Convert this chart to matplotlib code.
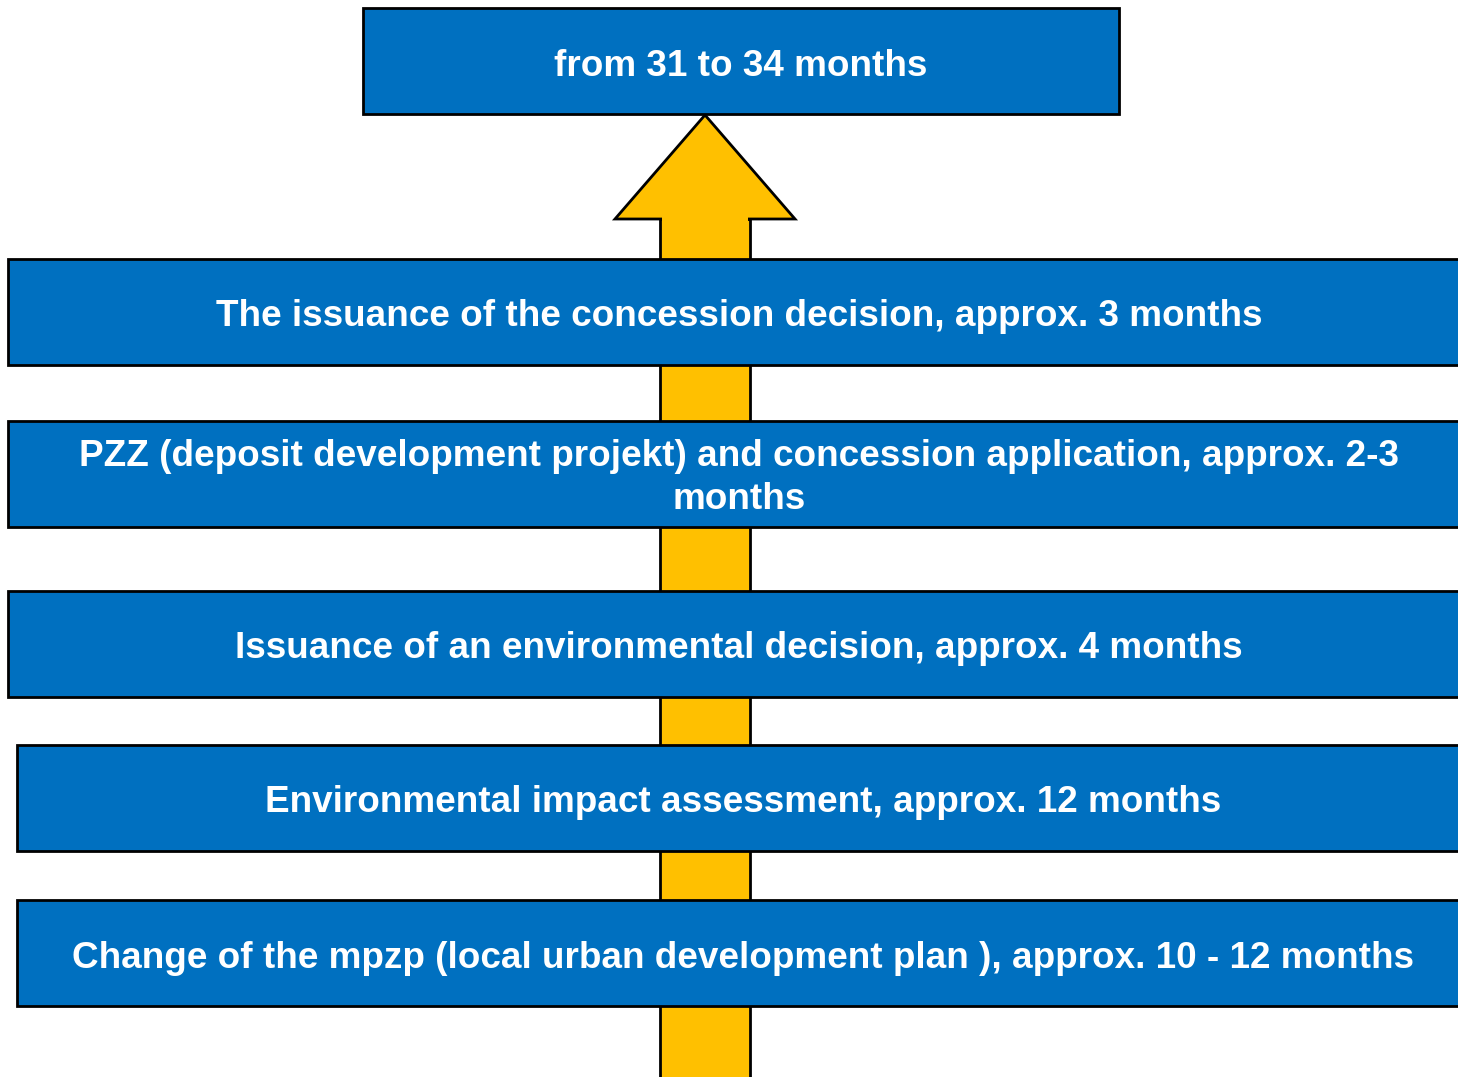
import matplotlib.pyplot as plt
from matplotlib.patches import Rectangle, Polygon

# top box, then the steps from top to bottom
top_label = 'from 31 to 34 months'
step_labels = [
    'The issuance of the concession decision, approx. 3 months',
    'PZZ (deposit development projekt) and concession application, approx. 2-3\nmonths',
    'Issuance of an environmental decision, approx. 4 months',
    'Environmental impact assessment, approx. 12 months',
    'Change of the mpzp (local urban development plan ), approx. 10 - 12 months',
]

blue = '#0070C0'
gold = '#FFC000'

plt.rcParams['font.family'] = ['Liberation Sans', 'DejaVu Sans']

fig = plt.figure(figsize=(14.58, 10.77), dpi=100)
ax = fig.add_axes([0, 0, 1, 1])
ax.set_xlim(0, 1458)
ax.set_ylim(1077, 0)
ax.axis('off')

# arrow behind the boxes
shaft = Rectangle((660, 219), 90, 900, facecolor=gold, edgecolor='black', lw=2, zorder=1)
ax.add_patch(shaft)
head = Polygon([(615, 219), (705, 115), (795, 219)], closed=True,
               facecolor=gold, edgecolor='black', lw=2, zorder=2)
ax.add_patch(head)
ax.add_patch(Rectangle((662, 215), 86, 10, facecolor=gold, edgecolor='none', zorder=3))

# top box
ax.add_patch(Rectangle((363, 8), 756, 106, facecolor=blue, edgecolor='black', lw=2, zorder=4))
ax.text(741, 63, top_label, color='white', fontsize=26.6, fontweight='bold',
        ha='center', va='center_baseline', zorder=5)

box_tops = [259, 421, 591, 745, 900]
box_lefts = [8, 8, 8, 17, 17]
for label, y0, x0 in zip(step_labels, box_tops, box_lefts):
    ax.add_patch(Rectangle((x0, y0), 1462 - x0 + 8, 106, facecolor=blue,
                           edgecolor='black', lw=2, zorder=4))
    if '\n' in label:
        ax.text((x0 + 1470) / 2, y0 + 57, label, color='white', fontsize=26.6,
                fontweight='bold', ha='center', va='center', linespacing=1.28, zorder=5)
    else:
        ax.text((x0 + 1470) / 2, y0 + 54, label, color='white', fontsize=26.6,
                fontweight='bold', ha='center', va='center_baseline', zorder=5)

fig.savefig('out.png', dpi=100)
